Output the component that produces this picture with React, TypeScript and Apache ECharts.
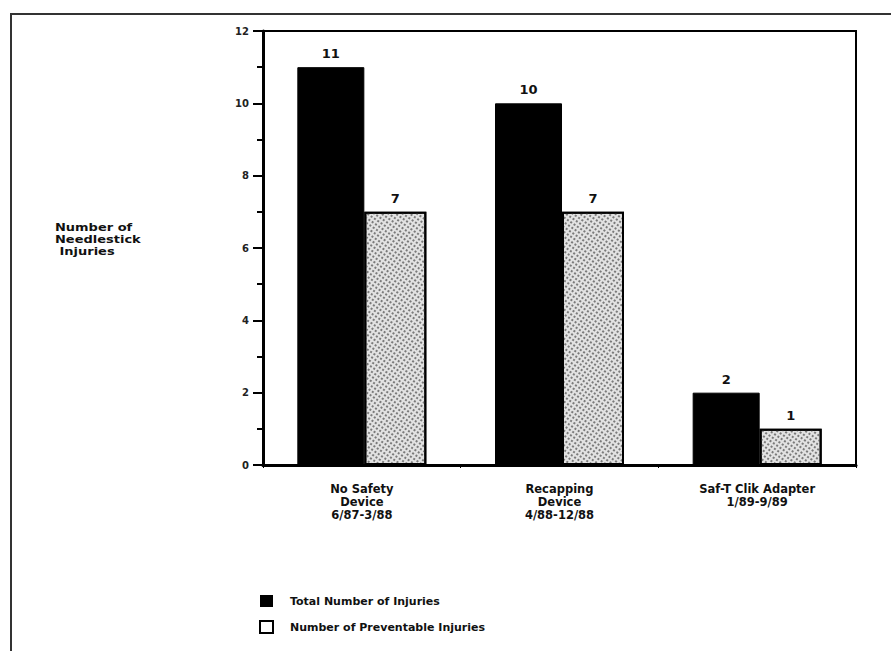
import React, { useEffect, useRef } from "react";
import * as echarts from "echarts";

const categories = [
  "No Safety\nDevice\n6/87-3/88",
  "Recapping\nDevice\n4/88-12/88",
  "Saf-T Clik Adapter\n1/89-9/89",
];
const totalInjuries = [11, 10, 2];
const preventableInjuries = [7, 7, 1];
const yTicks = [0, 2, 4, 6, 8, 10, 12];
const seriesNames = ["Total Number of Injuries", "Number of Preventable Injuries"];
const yAxisTitle = ["Number of", "Needlestick", " Injuries"];

const FONT = "DejaVu Sans, Liberation Sans, Arial, sans-serif";

export default function App() {
  const ref = useRef<HTMLDivElement>(null);
  useEffect(() => {
    if (!ref.current) return;
    const chart = echarts.init(ref.current, null, { renderer: "svg" });
    chart.setOption({
      animation: false,
      backgroundColor: "#ffffff",
      textStyle: { fontFamily: FONT },
      grid: {
        left: 263,
        right: 35,
        top: 31,
        bottom: 186,
        show: true,
        borderColor: "#000",
        borderWidth: 2,
        backgroundColor: "transparent",
      },
      legend: {
        orient: "vertical",
        left: 254,
        top: 590,
        icon: "rect",
        itemWidth: 13,
        itemHeight: 12,
        itemGap: 13,
        textStyle: { fontFamily: FONT, fontSize: 11, fontWeight: "bold", color: "#111", padding: [0, 0, 0, 12] },
        data: [
          { name: seriesNames[0], itemStyle: { color: "#000", borderColor: "#000", borderWidth: 0, decal: "none" } },
          { name: seriesNames[1], itemStyle: { color: "#fff", borderColor: "#000", borderWidth: 2, decal: "none" } },
        ],
      },
      xAxis: {
        type: "category",
        data: categories,
        axisLine: { show: true, lineStyle: { color: "#000", width: 3 } },
        axisTick: { show: true, alignWithLabel: false, length: 3, lineStyle: { color: "#000", width: 1 } },
        axisLabel: {
          fontFamily: FONT,
          fontSize: 11.5,
          fontWeight: "bold",
          color: "#111",
          lineHeight: 13,
          margin: 17,
        },
      },
      yAxis: {
        type: "value",
        min: 0,
        max: 12,
        interval: 2,
        axisLine: { show: true, lineStyle: { color: "#000", width: 3 } },
        axisTick: { show: true, length: 10, lineStyle: { color: "#000", width: 2 } },
        minorTick: { show: true, splitNumber: 2, length: 6, lineStyle: { color: "#000", width: 2 } },
        splitLine: { show: false },
        axisLabel: {
          fontFamily: FONT,
          fontSize: 10,
          fontWeight: "bold",
          color: "#222",
          margin: 14,
          formatter: (v: number) => (yTicks.includes(v) ? String(v) : ""),
        },
      },
      series: [
        {
          name: seriesNames[0],
          type: "bar",
          data: totalInjuries,
          barWidth: 67,
          barGap: "0%",
          itemStyle: { color: "#000", borderColor: "#000", borderWidth: 1 },
          label: {
            show: true,
            position: "top",
            distance: 7,
            fontFamily: FONT,
            fontSize: 13,
            fontWeight: "bold",
            color: "#111",
          },
        },
        {
          name: seriesNames[1],
          type: "bar",
          data: preventableInjuries,
          barWidth: 62,
          barGap: "0%",
          itemStyle: {
            color: "#e2e2e2",
            borderColor: "#000",
            borderWidth: 2,
            decal: {
              symbol: "rect",
              symbolSize: 1,
              dashArrayX: [2, 2],
              dashArrayY: [2, 2],
              color: "#7a7a7a",
              rotation: 0.6,
            },
          },
          label: {
            show: true,
            position: "top",
            distance: 7,
            fontFamily: FONT,
            fontSize: 13,
            fontWeight: "bold",
            color: "#111",
          },
        },
      ],
      graphic: [
        {
          type: "polyline",
          shape: { points: [[11, 651], [11, 14], [891, 14]] },
          style: { stroke: "#333", lineWidth: 2, fill: "none" },
          silent: true,
        },
        ...yAxisTitle.map((t, i) => ({
          type: "text",
          x: 55,
          y: 223 + i * 12,
          scaleX: 1.3,
          style: {
            text: t,
            x: 0,
            y: 0,
            verticalAlign: "top",
            fontFamily: FONT,
            fontSize: 10,
            fontWeight: "bold",
            fill: "#111",
          },
          silent: true,
        })),
      ],
    });
    return () => chart.dispose();
  }, []);
  return <div ref={ref} style={{ width: 891, height: 651, position: "absolute", left: 0, top: 0 }} />;
}
